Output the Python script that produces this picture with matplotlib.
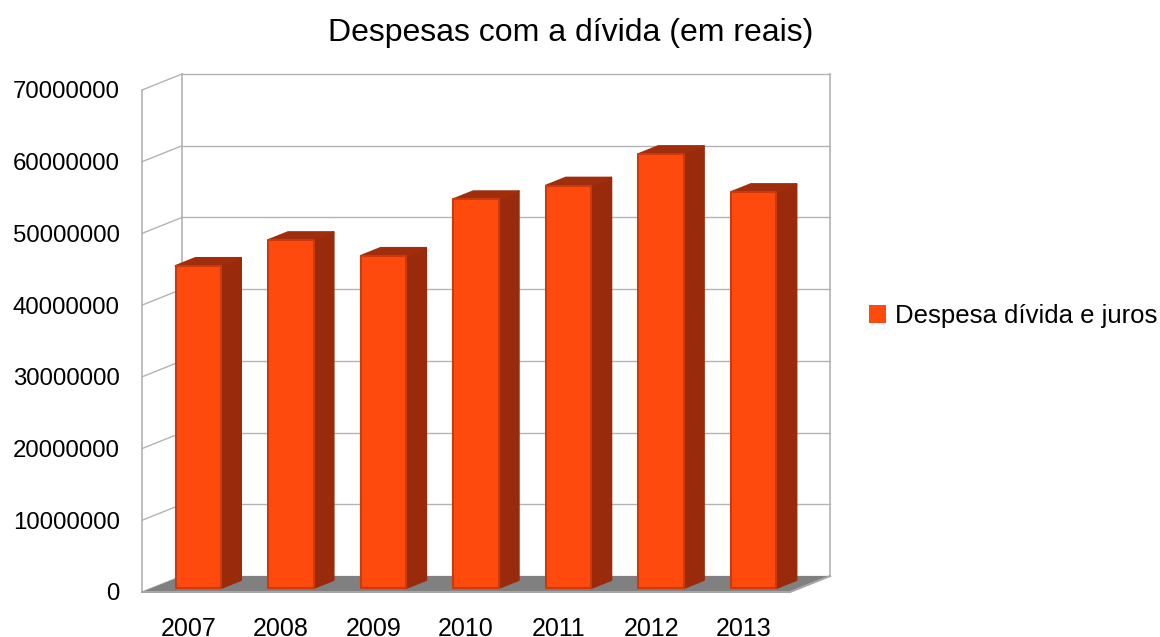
import matplotlib.pyplot as plt
from matplotlib.patches import Polygon, Patch

plt.rcParams['font.family'] = ['Liberation Sans', 'DejaVu Sans']

# Dados
anos = ['2007', '2008', '2009', '2010', '2011', '2012', '2013']
despesas = [44900000, 48500000, 46300000, 54200000, 56100000, 60500000, 55200000]
ticks_y = [0, 10000000, 20000000, 30000000, 40000000, 50000000, 60000000, 70000000]

titulo = 'Despesas com a dívida (em reais)'
serie = 'Despesa dívida e juros'

# Cores
cor_frente = '#ff4a0e'
cor_borda = '#c93a0c'
cor_lado = '#992a0b'
cor_topo = '#a02d0c'
cor_grade = '#b3b3b3'
cor_piso = '#808080'

# Profundidade da cena (deslocamento da frente para o fundo, em unidades de dados)
DX = 0.432
DY = 2230000
ymax = ticks_y[-1]
n = len(anos)
x0, x1 = -0.5, n - 0.5


def proj(x, y, d):
    # d = 0 na frente, d = 1 na parede do fundo
    return (x + d * DX, y + d * DY)


fig = plt.figure(figsize=(11.6, 6.37), dpi=100)
ax = fig.add_axes([142 / 1160, 45 / 637, 648 / 1160, 502 / 637])
ax.set_xlim(x0, x1)
ax.set_ylim(0, ymax)
for s in ax.spines.values():
    s.set_visible(False)

# Parede do fundo e parede lateral com linhas de grade
for v in ticks_y:
    xs, ys = zip(proj(x0, v, 1), proj(x1, v, 1))
    ax.plot(xs, ys, color=cor_grade, lw=1.0, clip_on=False, zorder=1)
    xs, ys = zip(proj(x0, v, 0), proj(x0, v, 1))
    ax.plot(xs, ys, color=cor_grade, lw=1.0, clip_on=False, zorder=1)
for (x, d) in [(x0, 0), (x0, 1), (x1, 1)]:
    xs, ys = zip(proj(x, 0, d), proj(x, ymax, d))
    ax.plot(xs, ys, color=cor_grade, lw=1.2, clip_on=False, zorder=1)

# Piso
piso = [proj(x0, 0, 0), proj(x1, 0, 0), proj(x1, 0, 1), proj(x0, 0, 1)]
ax.add_patch(Polygon(piso, closed=True, facecolor=cor_piso, edgecolor='none',
                     clip_on=False, zorder=2))
xs, ys = zip(proj(x0, 0, 0), proj(x1, 0, 0), proj(x1, 0, 1))
ax.plot(xs, ys, color='#a6a6a6', lw=1.5, clip_on=False, zorder=2)

# Barras 3D
larg = 0.49
d_frente, d_fundo = 0.25, 0.75
for i, v in enumerate(despesas):
    xl, xr = i - larg / 2, i + larg / 2
    frente = [proj(xl, 0, d_frente), proj(xr, 0, d_frente),
              proj(xr, v, d_frente), proj(xl, v, d_frente)]
    lado = [proj(xr, 0, d_frente), proj(xr, 0, d_fundo),
            proj(xr, v, d_fundo), proj(xr, v, d_frente)]
    topo = [proj(xl, v, d_frente), proj(xr, v, d_frente),
            proj(xr, v, d_fundo), proj(xl, v, d_fundo)]
    ax.add_patch(Polygon(lado, closed=True, facecolor=cor_lado, edgecolor=cor_lado,
                         lw=1.5, joinstyle='round', clip_on=False, zorder=3))
    ax.add_patch(Polygon(topo, closed=True, facecolor=cor_topo, edgecolor=cor_topo,
                         lw=1.5, joinstyle='round', clip_on=False, zorder=3))
    ax.add_patch(Polygon(frente, closed=True, facecolor=cor_frente, edgecolor=cor_borda,
                         lw=1.5, joinstyle='round', clip_on=False, zorder=4))

# Eixos
ax.set_yticks(ticks_y)
ax.set_yticklabels([str(t) for t in ticks_y], fontsize=17.3)
ax.set_xticks(range(n))
ax.set_xticklabels(anos, fontsize=18)
ax.tick_params(axis='y', length=0, pad=16)
ax.tick_params(axis='x', length=0, pad=18)

fig.text(571 / 1160, 1 - 33 / 637, titulo, ha='center', va='center', fontsize=23)

fig.legend(handles=[Patch(facecolor=cor_frente, edgecolor='none', label=serie)],
           loc='center left', bbox_to_anchor=(869 / 1160, 1 - 316 / 637),
           frameon=False, fontsize=18.5, handlelength=0.66, handleheight=0.66,
           handletextpad=0.35, borderpad=0, borderaxespad=0)

fig.savefig('out.png', dpi=100)
